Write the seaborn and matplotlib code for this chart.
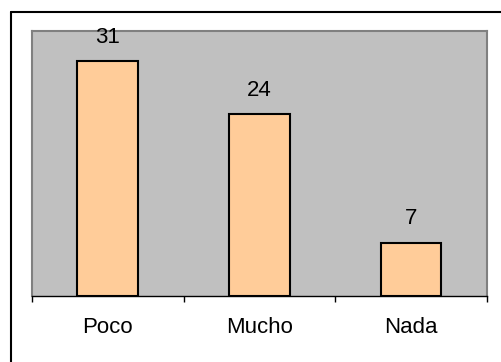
import matplotlib
matplotlib.use("Agg")
import matplotlib.pyplot as plt
from matplotlib.lines import Line2D
import pandas as pd
import seaborn as sns

# data
categories = ["Poco", "Mucho", "Nada"]
values = [31, 24, 7]

df = pd.DataFrame({"cat": categories, "val": values})

sns.set_style("white")
plt.rcParams['font.family'] = ['Liberation Sans', 'DejaVu Sans']
plt.rcParams['text.color'] = 'black'
plt.rcParams['xtick.color'] = 'black'
plt.rcParams['xtick.labelcolor'] = 'black'

W, H = 502, 362
fig = plt.figure(figsize=(W / 100, H / 100), dpi=100)
ax = fig.add_axes([32 / W, 1 - 296 / H, (487 - 32) / W, (296 - 31) / H])

sns.barplot(data=df, x="cat", y="val", color="#FFCC99", width=0.4,
            edgecolor="black", linewidth=1.5, saturation=1, ax=ax)

ax.set_facecolor("#C0C0C0")
ax.set_ylim(0, 35)
ax.set_xlim(-0.5, 2.5)
ax.set_xlabel("")
ax.set_ylabel("")
ax.set_yticks([])

# category boundaries as ticks
ax.set_xticks([-0.5, 0.5, 1.5, 2.5], minor=False)
ax.set_xticklabels([])
ax.set_xticks([0, 1, 2], minor=True)
ax.set_xticklabels(categories, minor=True, fontsize=16, color="black")
ax.tick_params(axis="x", which="major", direction="out", length=4, width=1,
               color="black", bottom=True)
ax.tick_params(axis="x", which="minor", length=0, pad=15)

for side in ["left", "top", "right"]:
    ax.spines[side].set_color("#808080")
    ax.spines[side].set_linewidth(1.5)
ax.spines["bottom"].set_color("black")
ax.spines["bottom"].set_linewidth(1)

for i, v in enumerate(values):
    ax.annotate(str(v), (i, v), xytext=(0, 13.5), textcoords="offset points",
                ha="center", va="baseline", fontsize=16, color="black",
                annotation_clip=False)

# outer chart border (only top and left visible)
x0 = 11 / W
y0 = 1 - 12 / H
fig.add_artist(Line2D([x0, x0], [0, y0], transform=fig.transFigure,
                      color="black", lw=1.5))
fig.add_artist(Line2D([x0, 1], [y0, y0], transform=fig.transFigure,
                      color="black", lw=1.5))

fig.savefig("out.png", dpi=100)
